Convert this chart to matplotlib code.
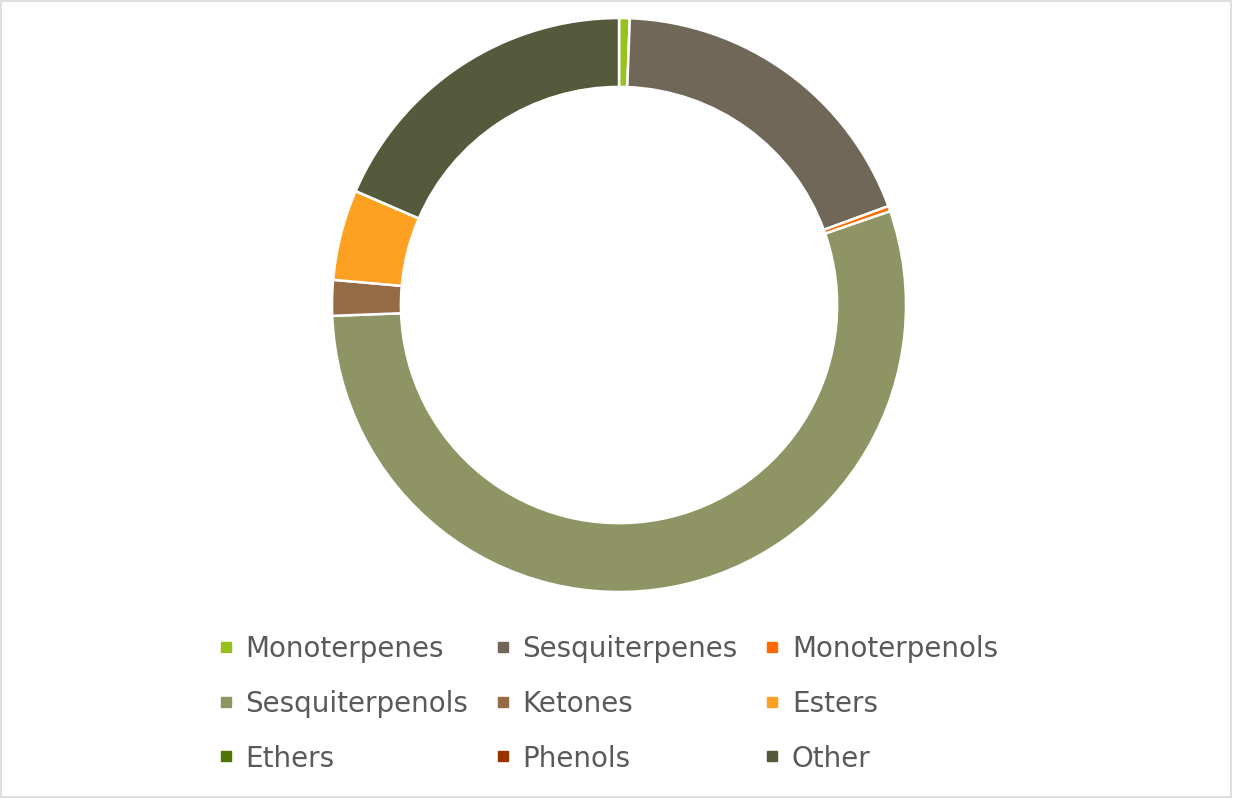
import matplotlib
matplotlib.use("Agg")
import matplotlib.pyplot as plt
from matplotlib.lines import Line2D
from matplotlib.patches import Rectangle

# data
labels = ["Monoterpenes", "Sesquiterpenes", "Monoterpenols", "Sesquiterpenols",
          "Ketones", "Esters", "Ethers", "Phenols", "Other"]
values = [0.6, 18.8, 0.3, 54.7, 2.0, 5.1, 0.0, 0.0, 18.5]
colors = ["#97C11F", "#706758", "#FF6A00", "#8F9464",
          "#946B45", "#FEA021", "#4F7507", "#993300", "#555A3C"]

fig = plt.figure(figsize=(12.33, 8.03), dpi=100)
fig.patches.append(Rectangle((0.001, 0.006), 0.997, 0.992, transform=fig.transFigure,
                             fill=False, edgecolor="#D9D9D9", linewidth=1.2))

ax = fig.add_axes([0.2693, 0.2615, 0.4655, 0.7148])
ax.pie(values, colors=colors, startangle=90, counterclock=False, radius=1,
       wedgeprops=dict(width=0.24, edgecolor="white", linewidth=1.8))
ax.set_xlim(-1, 1)
ax.set_ylim(-1, 1)
ax.set_aspect("equal")
ax.axis("off")

# legend filled row by row
order = [0, 3, 6, 1, 4, 7, 2, 5, 8]
handles = [Line2D([], [], marker="s", linestyle="none", markersize=7,
                  color=colors[i]) for i in order]
fig.legend(handles, [labels[i] for i in order], ncol=3, frameon=False,
           loc="center", bbox_to_anchor=(0.493, 0.123),
           prop=dict(family="DejaVu Sans", size=20), labelcolor="#595959",
           handlelength=0.6, handletextpad=0.4, columnspacing=0.95,
           labelspacing=0.97)

fig.savefig("out.png", dpi=100)
